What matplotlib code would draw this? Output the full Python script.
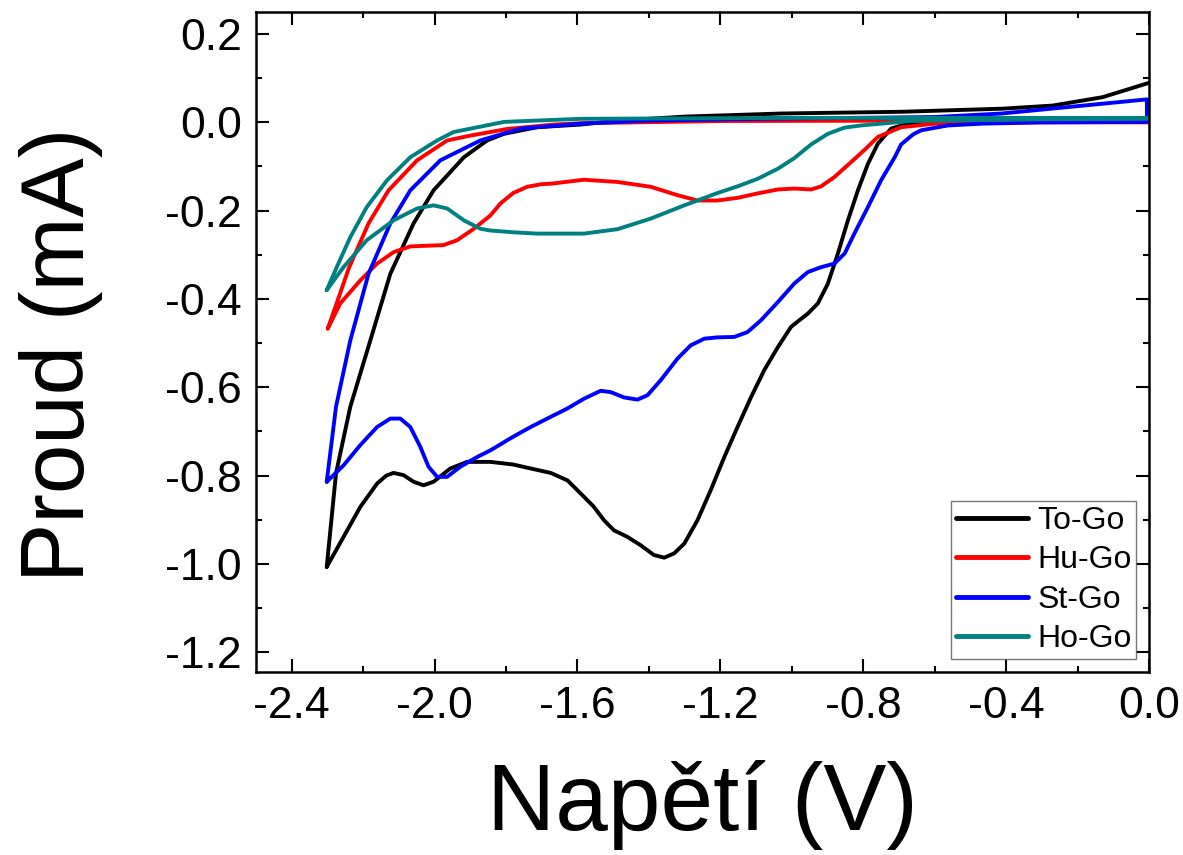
import matplotlib
matplotlib.use("Agg")
import matplotlib.pyplot as plt
from matplotlib.ticker import MultipleLocator

plt.rcParams["font.family"] = ["Liberation Sans", "DejaVu Sans"]

# Data (potential in V, current in mA)
to_go_v = [-2.302, -2.255, -2.208, -2.161, -2.135, -2.115, -2.087, -2.059, -2.031, -2.003,
           -1.956, -1.909, -1.844, -1.780, -1.731, -1.675, -1.628, -1.582, -1.554, -1.526,
           -1.498, -1.460, -1.423, -1.386, -1.357, -1.329, -1.301, -1.264, -1.227, -1.189,
           -1.152, -1.114, -1.077, -1.039, -1.002, -0.955, -0.927, -0.899, -0.871, -0.843,
           -0.815, -0.787, -0.759, -0.722, -0.675, -0.500, -0.200, 0.010,
           0.010, -0.130, -0.270, -0.410, -0.690, -1.030, -1.300, -1.500, -1.591, -1.713,
           -1.806, -1.853, -1.918, -2.003, -2.059, -2.124, -2.180, -2.236, -2.276, -2.302]
to_go_i = [-1.007, -0.939, -0.871, -0.818, -0.800, -0.794, -0.799, -0.814, -0.822, -0.814,
           -0.784, -0.769, -0.769, -0.775, -0.784, -0.794, -0.811, -0.848, -0.871, -0.901,
           -0.924, -0.939, -0.958, -0.980, -0.986, -0.976, -0.954, -0.901, -0.833, -0.758,
           -0.690, -0.622, -0.561, -0.509, -0.463, -0.433, -0.410, -0.365, -0.297, -0.222,
           -0.154, -0.094, -0.048, -0.014, -0.003, 0.002, 0.004, 0.005,
           0.092, 0.057, 0.038, 0.031, 0.024, 0.020, 0.013, 0.003, -0.005, -0.011,
           -0.026, -0.041, -0.079, -0.154, -0.229, -0.343, -0.494, -0.644, -0.795, -1.007]

hu_go_v = [-2.299, -2.264, -2.236, -2.208, -2.161, -2.115, -2.068, -1.975, -1.937, -1.890,
           -1.844, -1.816, -1.780, -1.741, -1.700, -1.675, -1.582, -1.488, -1.395, -1.320,
           -1.264, -1.208, -1.152, -1.096, -1.039, -0.993, -0.946, -0.918, -0.881, -0.834,
           -0.796, -0.759, -0.694, -0.600, -0.300, 0.010,
           0.010, -0.600, -1.200, -1.591, -1.666, -1.797, -1.900, -1.965, -2.049, -2.129,
           -2.185, -2.240, -2.270, -2.299]
hu_go_i = [-0.467, -0.410, -0.384, -0.358, -0.320, -0.294, -0.281, -0.278, -0.267, -0.241,
           -0.211, -0.184, -0.160, -0.146, -0.140, -0.139, -0.130, -0.135, -0.146, -0.165,
           -0.177, -0.177, -0.171, -0.161, -0.152, -0.150, -0.152, -0.145, -0.124, -0.090,
           -0.062, -0.033, -0.011, -0.003, 0.000, 0.000,
           0.004, 0.004, 0.003, -0.002, -0.005, -0.015, -0.030, -0.041, -0.086, -0.154,
           -0.229, -0.330, -0.400, -0.467]

st_go_v = [-2.302, -2.255, -2.208, -2.161, -2.124, -2.096, -2.068, -2.040, -2.017, -1.993,
           -1.965, -1.928, -1.881, -1.844, -1.780, -1.731, -1.675, -1.628, -1.582, -1.535,
           -1.507, -1.470, -1.432, -1.404, -1.367, -1.320, -1.283, -1.245, -1.208, -1.161,
           -1.124, -1.086, -1.039, -0.993, -0.955, -0.918, -0.881, -0.852, -0.825, -0.787,
           -0.750, -0.712, -0.694, -0.660, -0.638, -0.563, -0.469, -0.300, -0.006,
           -0.006, -0.133, -0.273, -0.413, -0.600, -1.086, -1.400, -1.591, -1.759, -1.872,
           -1.984, -2.068, -2.124, -2.185, -2.236, -2.276, -2.302]
st_go_i = [-0.814, -0.777, -0.731, -0.690, -0.671, -0.671, -0.690, -0.735, -0.780, -0.803,
           -0.803, -0.780, -0.758, -0.743, -0.712, -0.690, -0.667, -0.648, -0.626, -0.608,
           -0.611, -0.623, -0.628, -0.618, -0.584, -0.535, -0.505, -0.490, -0.487, -0.486,
           -0.475, -0.448, -0.407, -0.365, -0.339, -0.328, -0.320, -0.297, -0.252, -0.192,
           -0.131, -0.079, -0.050, -0.027, -0.018, -0.007, -0.003, 0.000, 0.001,
           0.052, 0.042, 0.031, 0.020, 0.012, 0.008, 0.004, -0.003, -0.014, -0.041,
           -0.086, -0.154, -0.229, -0.343, -0.494, -0.644, -0.814]

ho_go_v = [-2.302, -2.255, -2.190, -2.115, -2.049, -2.003, -1.965, -1.918, -1.872, -1.844,
           -1.780, -1.713, -1.675, -1.582, -1.488, -1.395, -1.301, -1.208, -1.152, -1.096,
           -1.039, -0.993, -0.946, -0.899, -0.853, -0.806, -0.666, -0.300, 0.010,
           0.010, -1.030, -1.591, -1.806, -1.947, -1.993, -2.068, -2.133, -2.190, -2.236,
           -2.274, -2.302]
ho_go_i = [-0.380, -0.328, -0.267, -0.222, -0.195, -0.188, -0.195, -0.222, -0.241, -0.245,
           -0.249, -0.252, -0.252, -0.252, -0.242, -0.218, -0.188, -0.160, -0.145, -0.128,
           -0.105, -0.081, -0.050, -0.026, -0.012, -0.007, 0.003, 0.007, 0.008,
           0.010, 0.010, 0.008, 0.001, -0.022, -0.041, -0.079, -0.131, -0.192, -0.260,
           -0.328, -0.380]

labels = ["To-Go", "Hu-Go", "St-Go", "Ho-Go"]
colors = ["black", "#ff0000", "#0000ff", "#008080"]

fig = plt.figure(figsize=(11.83, 8.55), dpi=100)
ax = fig.add_axes([0.2164, 0.214, 0.7549, 0.772])

curves = [(to_go_v, to_go_i), (hu_go_v, hu_go_i), (st_go_v, st_go_i), (ho_go_v, ho_go_i)]
for (v, i), lab, col in zip(curves, labels, colors):
    ax.plot(v, i, color=col, lw=2.8, label=lab, solid_joinstyle="round", solid_capstyle="round")

ax.set_xlim(-2.5, 0.0)
ax.set_ylim(-1.245, 0.25)
ax.xaxis.set_major_locator(MultipleLocator(0.4))
ax.xaxis.set_minor_locator(MultipleLocator(0.2))
ax.yaxis.set_major_locator(MultipleLocator(0.2))
ax.yaxis.set_minor_locator(MultipleLocator(0.1))
ax.xaxis.set_major_formatter(plt.FuncFormatter(lambda x, p: f"{x:.1f}"))
ax.yaxis.set_major_formatter(plt.FuncFormatter(lambda y, p: f"{y:.1f}"))

ax.tick_params(which="both", direction="in", top=True, right=True, width=1.5, labelsize=32)
ax.tick_params(which="major", length=9.5)
ax.tick_params(which="minor", length=4.5)
ax.tick_params(axis="y", pad=10)
ax.tick_params(axis="x", pad=10)
for s in ax.spines.values():
    s.set_linewidth(1.8)

ax.set_xlabel("Napětí (V)", fontsize=68, labelpad=24)
ax.set_ylabel("Proud (mA)", fontsize=64)
ax.yaxis.set_label_coords(-0.171, 0.48)

leg = ax.legend(loc="lower right", fontsize=23, frameon=True, fancybox=False,
                edgecolor="#555555", handlelength=2.25, handletextpad=0.3,
                labelspacing=0.3, borderpad=0.15, borderaxespad=0.4)
leg.get_frame().set_linewidth(1.0)
for line in leg.get_lines():
    line.set_linewidth(3.5)

fig.savefig("out.png", dpi=100)
